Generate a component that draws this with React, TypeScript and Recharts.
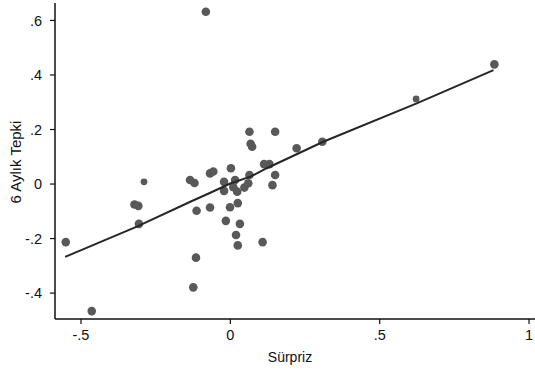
import React from "react";
import { ScatterChart, Scatter, XAxis, YAxis, Label } from "recharts";

// Sürpriz (x) values of the observations
const surpriz = [
  -0.082, 0.064, 0.068, 0.073, -0.135, -0.12, -0.068, -0.057, 0.002, -0.021,
  0.016, 0.064, 0.113, 0.131, 0.15, 0.222, 0.308, 0.884, 0.15, 0.141,
  -0.551, -0.464, -0.321, -0.308, -0.306, -0.113, -0.068, -0.115, -0.124, -0.021,
  -0.015, -0.001, 0.01, 0.023, 0.025, 0.032, 0.019, 0.025, 0.047, 0.06, 0.108,
];
// 6 Aylık Tepki (y) values of the observations
const tepki = [
  0.632, 0.192, 0.148, 0.137, 0.015, 0.004, 0.039, 0.046, 0.058, 0.008,
  0.015, 0.033, 0.073, 0.073, 0.192, 0.131, 0.155, 0.439, 0.033, -0.004,
  -0.213, -0.466, -0.075, -0.08, -0.146, -0.098, -0.086, -0.27, -0.379, -0.025,
  -0.135, -0.085, -0.012, -0.028, -0.07, -0.146, -0.187, -0.225, -0.013, 0.003, -0.213,
];
// observations drawn with smaller markers
const surprizSmall = [-0.289, 0.622];
const tepkiSmall = [0.008, 0.312];

// fitted line
const fitX = [-0.553, -0.313, -0.134, -0.067, 0, 0.067, 0.122, 0.311, 0.624, 0.881];
const fitY = [-0.267, -0.156, -0.065, -0.032, 0.002, 0.027, 0.058, 0.155, 0.296, 0.418];

const xTicks = [-0.5, 0, 0.5, 1];
const yTicks = [-0.4, -0.2, 0, 0.2, 0.4, 0.6];

const points = surpriz.map((x, i) => ({ x, y: tepki[i] }));
const smallPoints = surprizSmall.map((x, i) => ({ x, y: tepkiSmall[i] }));
const fitLine = fitX.map((x, i) => ({ x, y: fitY[i] }));

const FONT = "'Liberation Sans', Arial, sans-serif";
const DOT = "#595959";

const fmt = (v: number) => {
  if (v === 0) return "0";
  return String(v).replace("0.", ".");
};

export default function App() {
  return (
    <div style={{ position: "absolute", left: 0, top: 0, background: "#fff" }}>
      <ScatterChart
        width={535}
        height={375}
        margin={{ top: 3, right: 0, bottom: 0, left: 0 }}
      >
        <XAxis
          dataKey="x"
          type="number"
          domain={[-0.587, 1.02]}
          allowDataOverflow
          ticks={xTicks}
          tickFormatter={fmt}
          height={56}
          tickSize={5}
          tickMargin={6}
          axisLine={{ stroke: "#111", strokeWidth: 1.5 }}
          tickLine={{ stroke: "#111", strokeWidth: 1.2 }}
          tick={{ fill: "#111", fontSize: 14.5, fontFamily: FONT }}
        >
          <Label
            content={() => (
              <text
                x={290}
                y={362}
                textAnchor="middle"
                fontSize={14}
                fontFamily={FONT}
                fill="#111"
              >
                Sürpriz
              </text>
            )}
          />
        </XAxis>
        <YAxis
          dataKey="y"
          type="number"
          domain={[-0.495, 0.664]}
          allowDataOverflow
          ticks={yTicks}
          tickFormatter={fmt}
          width={55}
          tickSize={5}
          tickMargin={8}
          axisLine={{ stroke: "#111", strokeWidth: 1.5 }}
          tickLine={{ stroke: "#111", strokeWidth: 1.2 }}
          tick={{ fill: "#111", fontSize: 14.5, fontFamily: FONT }}
        >
          <Label
            content={() => (
              <text
                x={21}
                y={162}
                textAnchor="middle"
                fontSize={15}
                fontFamily={FONT}
                fill="#111"
                transform="rotate(-90, 21, 162)"
              >
                6 Aylık Tepki
              </text>
            )}
          />
        </YAxis>
        <Scatter
          data={points}
          isAnimationActive={false}
          shape={(p: any) => <circle cx={p.cx} cy={p.cy} r={4.3} fill={DOT} />}
        />
        <Scatter
          data={smallPoints}
          isAnimationActive={false}
          shape={(p: any) => <circle cx={p.cx} cy={p.cy} r={3.4} fill={DOT} />}
        />
        <Scatter
          data={fitLine}
          isAnimationActive={false}
          line={{ stroke: "#262626", strokeWidth: 2 }}
          lineJointType="linear"
          shape={() => <g />}
        />
      </ScatterChart>
    </div>
  );
}
